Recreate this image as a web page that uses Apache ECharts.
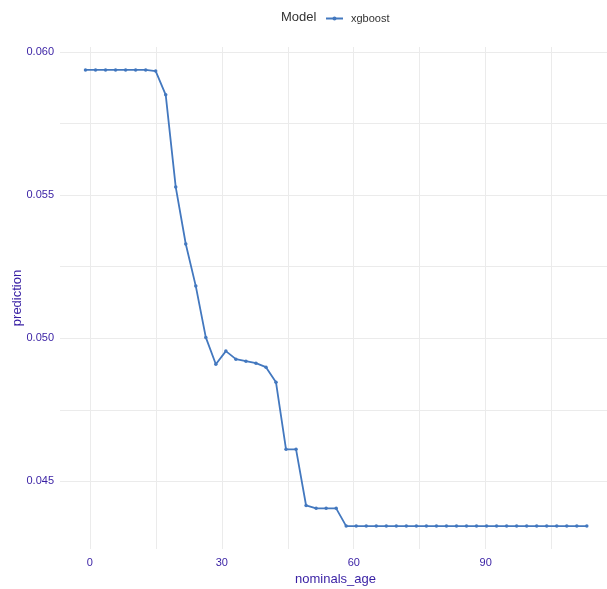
<!DOCTYPE html>
<html>
<head>
<meta charset="utf-8">
<script src="https://cdn.jsdelivr.net/npm/echarts@6/dist/echarts.min.js"></script>
<style>
  html, body { margin: 0; padding: 0; background: #fff; }
  #chart { width: 607px; height: 589px; }
</style>
</head>
<body>
<div id="chart"></div>
<script>
/* 数据 */
const modelName = 'xgboost';
const ages = [
  -1.0, 1.28, 3.56, 5.84, 8.12, 10.4, 12.68, 14.96, 17.24, 19.52,
  21.8, 24.08, 26.36, 28.64, 30.92, 33.2, 35.48, 37.76, 40.04, 42.32,
  44.6, 46.88, 49.16, 51.44, 53.72, 56.0, 58.28, 60.56, 62.84, 65.12,
  67.4, 69.68, 71.96, 74.24, 76.52, 78.8, 81.08, 83.36, 85.64, 87.92,
  90.2, 92.48, 94.76, 97.04, 99.32, 101.6, 103.88, 106.16, 108.44, 110.72,
  113.0
];
const predictions = [
  0.05937, 0.05937, 0.05937, 0.05937, 0.05937, 0.05937, 0.05937, 0.05933, 0.05850, 0.05528,
  0.05329, 0.05182, 0.05003, 0.04909, 0.04955, 0.04927, 0.04920, 0.04913, 0.04899, 0.04846,
  0.04612, 0.04612, 0.04416, 0.04406, 0.04406, 0.04406, 0.04344, 0.04344, 0.04344, 0.04344,
  0.04344, 0.04344, 0.04344, 0.04344, 0.04344, 0.04344, 0.04344, 0.04344, 0.04344, 0.04344,
  0.04344, 0.04344, 0.04344, 0.04344, 0.04344, 0.04344, 0.04344, 0.04344, 0.04344, 0.04344,
  0.04344
];
const xGridValues = [0, 15, 30, 45, 60, 75, 90, 105];
const xLabelValues = [0, 30, 60, 90];
const yGridValues = [0.045, 0.0475, 0.05, 0.0525, 0.055, 0.0575, 0.06];
const yLabelValues = [0.045, 0.05, 0.055, 0.06];

const textColor = '#371ea3';
const gridColor = '#ebebeb';
const lineColor = '#4378bf';
const fontFamily = 'Liberation Sans, Arial, sans-serif';

const chart = echarts.init(document.getElementById('chart'));

chart.setOption({
  animation: false,
  title: {
    text: 'Model',
    left: 281,
    top: 11,
    padding: 0,
    textStyle: { fontSize: 13, fontWeight: 'normal', color: '#333', fontFamily: fontFamily }
  },
  legend: {
    left: 325,
    top: 13,
    padding: 0,
    itemWidth: 17,
    itemHeight: 5,
    data: [modelName],
    textStyle: { fontSize: 11, color: '#333', fontFamily: fontFamily, padding: [0, 0, 0, 3] }
  },
  // y 轴标题, 用 graphic 放置
  graphic: [
    {
      type: 'text',
      x: 17,
      y: 298,
      rotation: Math.PI / 2,
      style: {
        text: 'prediction',
        fill: textColor,
        font: '13px ' + fontFamily,
        align: 'center',
        verticalAlign: 'middle'
      }
    }
  ],
  grid: { left: 60, right: -4, top: 47, bottom: 40, containLabel: false, outerBoundsMode: 'none' },
  xAxis: {
    type: 'value',
    min: -6.8,
    max: 118.5,
    name: 'nominals_age',
    nameLocation: 'middle',
    nameGap: 24,
    nameTextStyle: { fontSize: 13, color: textColor, fontFamily: fontFamily },
    axisLine: { show: false },
    axisTick: { show: false, customValues: xGridValues },
    axisLabel: {
      customValues: xLabelValues,
      margin: 8,
      fontSize: 11,
      color: textColor,
      fontFamily: fontFamily
    },
    splitLine: { show: true, lineStyle: { color: gridColor, width: 1 } }
  },
  yAxis: {
    type: 'value',
    min: 0.04264,
    max: 0.06017,
    axisLine: { show: false },
    axisTick: { show: false, customValues: yGridValues },
    axisLabel: {
      customValues: yLabelValues,
      margin: 6,
      fontSize: 11,
      color: textColor,
      fontFamily: fontFamily,
      formatter: function (v) { return v.toFixed(3); }
    },
    splitLine: { show: true, lineStyle: { color: gridColor, width: 1 } }
  },
  series: [
    {
      name: modelName,
      type: 'line',
      data: ages.map(function (a, i) { return [a, predictions[i]]; }),
      symbol: 'circle',
      symbolSize: 3.5,
      showSymbol: true,
      itemStyle: { color: lineColor },
      lineStyle: { color: lineColor, width: 1.8 }
    }
  ]
});
</script>
</body>
</html>
